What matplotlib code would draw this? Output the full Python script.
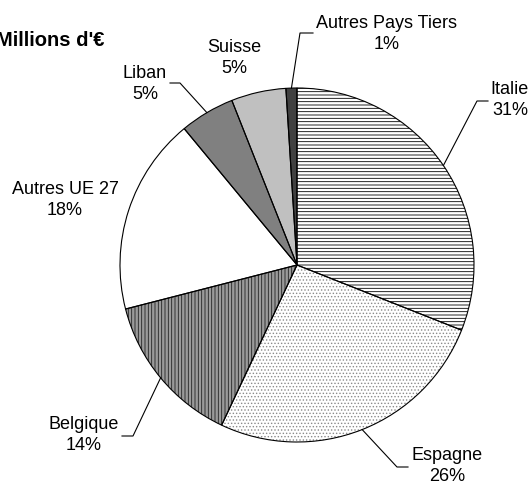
import numpy as np
import matplotlib
matplotlib.use("Agg")
import matplotlib.pyplot as plt

# Data
countries = ["Italie", "Espagne", "Belgique", "Autres UE 27", "Liban", "Suisse", "Autres Pays Tiers"]
shares = [31, 26, 14, 18, 5, 5, 1]
pct_labels = ["31%", "26%", "14%", "18%", "5%", "5%", "1%"]
title = "Millions d'€"

# Styling per slice
face_colors = ["white", "white", "#9a9a9a", "white", "#808080", "#c0c0c0", "#404040"]
hatches = ["-----", ".....", "|||||", None, None, None, None]
hatch_colors = ["black", "#8a8a8a", "#222222", "black", "black", "black", "black"]

# Layout (image pixels, y measured from top)
W, H = 532, 486
center_px = (297, 265)
radius_px = 177
label_pos = [(510, 100), (447, 466), (84, 435), (65, 200), (145, 84), (234, 58), (387, 34)]
# elbow of leader line and end of the short horizontal segment (None = no leader)
leader_pts = [
    [(477, 101), (488, 101)],
    [(397, 467), (408, 467)],
    [(133, 436), (122, 436)],
    None,
    [(180, 83), (170, 83)],
    None,
    [(300, 33), (313, 33)],
]

plt.rcParams["font.family"] = ["Liberation Sans", "DejaVu Sans"]
plt.rcParams["hatch.linewidth"] = 0.6


def px(x, y):
    return x, H - y


fig = plt.figure(figsize=(W / 100, H / 100), dpi=100)
ax = fig.add_axes([0, 0, 1, 1])

# fills + hatches (hatch colour follows the edge colour)
wedges, _ = ax.pie(
    shares,
    startangle=90,
    counterclock=False,
    center=px(*center_px),
    radius=radius_px,
    colors=face_colors,
    wedgeprops=dict(linewidth=0),
)
for w, h, hc in zip(wedges, hatches, hatch_colors):
    w.set_edgecolor(hc)
    if h:
        w.set_hatch(h)

# black outlines on top
ax.pie(
    shares,
    startangle=90,
    counterclock=False,
    center=px(*center_px),
    radius=radius_px,
    colors=["none"] * len(shares),
    wedgeprops=dict(edgecolor="black", linewidth=0.8, fill=False),
)

ax.set_xlim(0, W)
ax.set_ylim(0, H)
ax.set_axis_off()

cx, cy = px(*center_px)
for i, w in enumerate(wedges):
    ax.text(*px(*label_pos[i]), f"{countries[i]}\n{pct_labels[i]}",
            ha="center", va="center", fontsize=13, linespacing=1.35)
    if leader_pts[i] is None:
        continue
    mid = np.deg2rad((w.theta1 + w.theta2) / 2)
    xs = [cx + radius_px * np.cos(mid)]
    ys = [cy + radius_px * np.sin(mid)]
    for p in leader_pts[i]:
        x, y = px(*p)
        xs.append(x)
        ys.append(y)
    ax.plot(xs, ys, color="black", linewidth=0.8)

ax.text(*px(104, 41), title, ha="right", va="center", fontsize=14.5, fontweight="bold")

fig.savefig("out.png", dpi=100)
